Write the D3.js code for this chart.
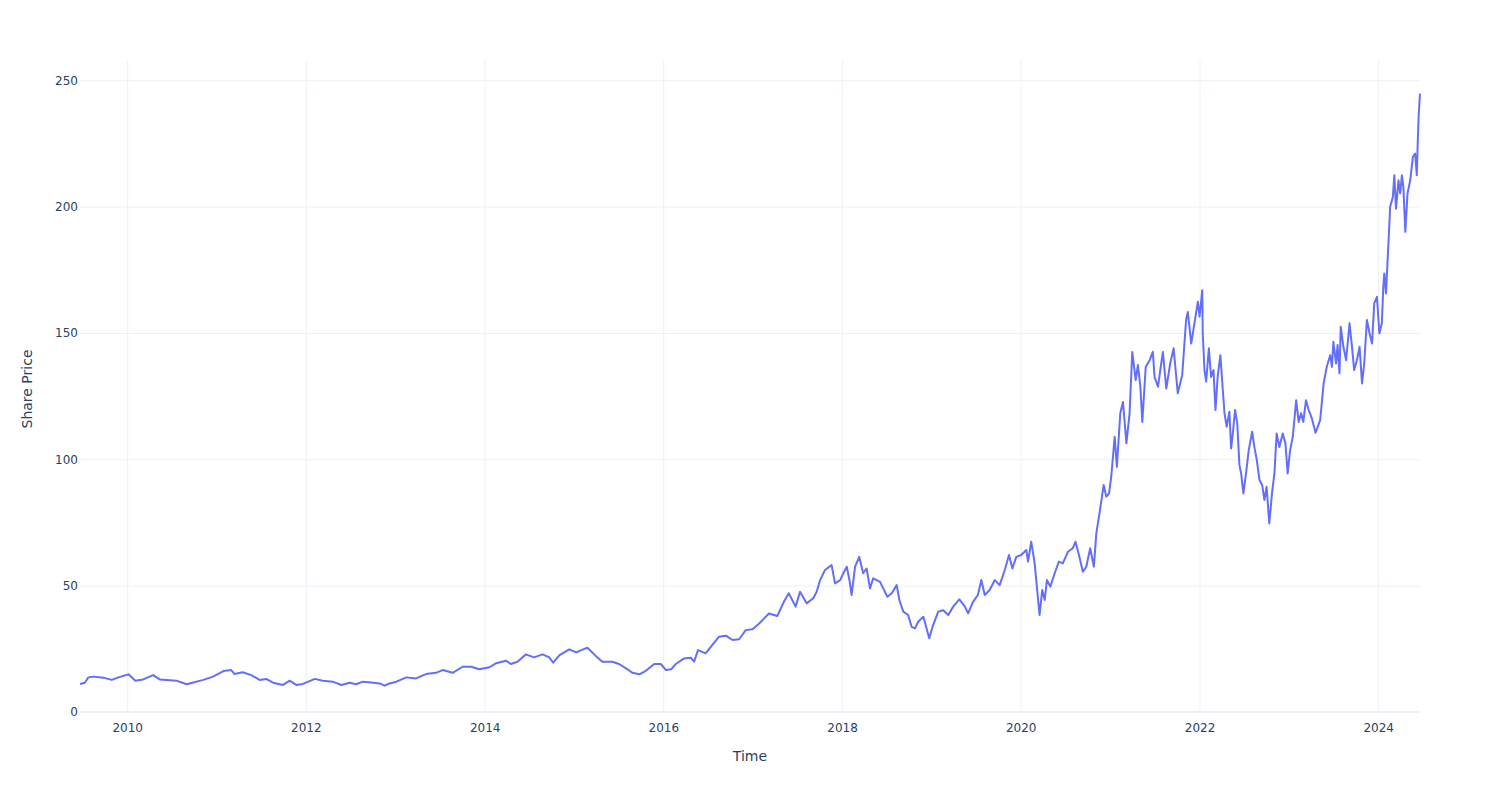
<!DOCTYPE html>
<html>
<head>
<meta charset="utf-8">
<script src="https://cdn.jsdelivr.net/npm/d3@7"></script>
<style>
  html, body { margin: 0; padding: 0; background: #fff; }
  svg { display: block; font-family: "DejaVu Sans", Verdana, sans-serif; }
</style>
</head>
<body>
<svg id="chart" width="1500" height="800"></svg>
<script>
// [date, share price]
const prices = [
["2009-06-22",11.1],["2009-07-12",11.6],["2009-07-26",13.7],["2009-08-16",14.0],["2009-09-25",13.6],["2009-10-30",12.7],["2009-11-26",13.7],
["2010-01-06",14.9],["2010-02-03",12.4],["2010-03-07",12.9],["2010-04-17",14.6],["2010-05-14",12.9],["2010-06-10",12.7],["2010-07-21",12.4],["2010-09-01",11.0],["2010-09-28",11.7],["2010-11-08",12.7],["2010-12-18",14.0],
["2011-01-29",16.2],["2011-03-02",16.6],["2011-03-16",15.0],["2011-04-18",15.7],["2011-05-23",14.6],["2011-06-26",12.7],["2011-07-23",13.1],["2011-08-20",11.6],["2011-09-30",10.7],["2011-10-27",12.4],["2011-11-23",10.7],["2011-12-20",11.1],
["2012-02-07",13.1],["2012-03-10",12.4],["2012-04-20",12.0],["2012-05-25",10.7],["2012-06-28",11.6],["2012-07-25",11.0],["2012-08-21",12.0],["2012-09-25",11.7],["2012-10-29",11.3],["2012-11-18",10.4],["2012-12-08",11.3],
["2013-01-05",12.0],["2013-02-15",13.7],["2013-03-26",13.3],["2013-05-06",15.0],["2013-06-16",15.5],["2013-07-13",16.6],["2013-08-23",15.5],["2013-10-03",17.9],["2013-11-07",17.9],["2013-12-10",16.9],
["2014-01-21",17.7],["2014-02-17",19.3],["2014-03-29",20.3],["2014-04-18",19.0],["2014-05-15",19.9],["2014-06-18",22.8],["2014-07-22",21.6],["2014-08-26",22.8],["2014-09-22",21.6],["2014-10-08",19.5],["2014-11-03",22.5],["2014-12-13",24.8],
["2015-01-10",23.6],["2015-01-31",24.5],["2015-02-25",25.4],["2015-03-31",22.2],["2015-04-27",19.9],["2015-06-07",19.9],["2015-07-04",19.0],["2015-08-08",16.9],["2015-08-28",15.5],["2015-09-25",14.9],["2015-10-22",16.3],["2015-11-25",19.0],["2015-12-22",19.0],
["2016-01-12",16.6],["2016-02-02",16.9],["2016-02-21",19.0],["2016-03-26",21.2],["2016-04-22",21.5],["2016-05-06",19.9],["2016-05-22",24.5],["2016-06-22",23.2],["2016-07-19",26.5],["2016-08-16",29.8],["2016-09-13",30.2],["2016-10-10",28.5],["2016-11-06",28.8],["2016-12-03",32.4],["2016-12-31",32.7],
["2017-01-28",35.1],["2017-03-08",39.0],["2017-04-11",38.0],["2017-05-08",43.6],["2017-05-28",47.0],["2017-06-25",41.7],["2017-07-13",47.6],["2017-08-09",43.0],["2017-09-05",45.0],["2017-09-19",47.6],["2017-10-03",52.2],["2017-10-23",56.2],["2017-11-19",58.1],["2017-12-03",50.9],["2017-12-24",52.2],
["2018-01-06",54.9],["2018-01-20",57.5],["2018-01-31",52.2],["2018-02-09",46.3],["2018-02-23",57.5],["2018-03-12",61.4],["2018-03-28",54.9],["2018-04-11",56.8],["2018-04-25",48.9],["2018-05-08",52.9],["2018-06-05",51.5],["2018-06-18",48.9],["2018-07-05",45.6],["2018-07-23",47.0],["2018-08-12",50.2],["2018-08-23",44.3],["2018-09-08",39.7],["2018-09-28",38.4],["2018-10-12",33.7],["2018-10-26",33.1],["2018-11-08",35.7],["2018-11-29",37.7],["2018-12-12",33.1],["2018-12-23",29.2],
["2019-01-08",34.4],["2019-01-29",39.7],["2019-02-18",40.3],["2019-03-11",38.4],["2019-03-31",41.7],["2019-04-25",44.6],["2019-05-18",41.7],["2019-05-31",39.0],["2019-06-20",43.6],["2019-07-10",46.3],["2019-07-24",52.2],["2019-08-07",46.3],["2019-08-27",48.3],["2019-09-17",52.2],["2019-10-07",50.2],["2019-10-28",56.2],["2019-11-14",62.1],["2019-11-28",56.8],["2019-12-14",61.4],
["2020-01-03",62.1],["2020-01-24",64.1],["2020-01-31",59.5],["2020-02-13",67.4],["2020-02-27",58.8],["2020-03-07",49.6],["2020-03-18",38.4],["2020-03-29",48.3],["2020-04-08",44.3],["2020-04-17",52.2],["2020-05-01",49.6],["2020-05-19",54.9],["2020-06-05",59.5],["2020-06-21",58.8],["2020-07-12",63.4],["2020-08-01",64.8],["2020-08-12",67.4],["2020-08-26",62.1],["2020-09-11",55.5],["2020-09-25",57.5],["2020-10-11",64.8],["2020-10-26",57.5],["2020-11-05",70.7],["2020-11-18",78.6],["2020-12-05",89.8],["2020-12-16",85.2],["2020-12-27",86.5],
["2021-01-05",93.1],["2021-01-19",108.9],["2021-01-28",97.0],["2021-02-11",118.2],["2021-02-22",122.7],["2021-03-08",106.3],["2021-03-21",118.2],["2021-04-01",142.5],["2021-04-15",131.3],["2021-04-24",137.3],["2021-05-04",128.7],["2021-05-12",114.8],["2021-05-26",136.6],["2021-06-11",139.2],["2021-06-24",142.5],["2021-07-01",132.6],["2021-07-15",128.7],["2021-08-04",142.5],["2021-08-18",128.0],["2021-09-03",137.9],["2021-09-17",143.9],["2021-10-04",126.1],["2021-10-22",133.3],["2021-11-07",155.1],["2021-11-14",158.3],["2021-11-28",145.8],["2021-12-11",153.8],["2021-12-25",162.3],
["2022-01-01",156.4],["2022-01-12",166.9],["2022-01-14",149.8],["2022-01-21",135.3],["2022-01-28",130.7],["2022-02-08",143.9],["2022-02-17",132.6],["2022-02-27",135.3],["2022-03-07",119.5],["2022-03-16",132.6],["2022-03-27",141.2],["2022-04-06",127.4],["2022-04-13",118.2],["2022-04-22",112.9],["2022-05-03",118.8],["2022-05-10",104.3],["2022-05-17",110.2],["2022-05-26",119.5],["2022-06-04",114.2],["2022-06-13",97.7],["2022-06-20",94.4],["2022-06-29",86.5],["2022-07-10",94.4],["2022-07-21",103.6],["2022-08-04",110.9],["2022-08-13",104.9],["2022-08-23",99.7],["2022-09-03",91.8],["2022-09-14",89.8],["2022-09-23",83.9],["2022-10-02",89.1],["2022-10-13",74.6],["2022-10-24",86.5],["2022-11-03",94.4],["2022-11-12",110.2],["2022-11-23",104.9],["2022-12-07",110.2],["2022-12-18",106.3],["2022-12-27",94.4],
["2023-01-06",103.6],["2023-01-17",108.9],["2023-01-31",123.4],["2023-02-10",114.8],["2023-02-20",118.2],["2023-03-01",114.8],["2023-03-12",123.4],["2023-03-23",119.5],["2023-04-05",116.2],["2023-04-20",110.5],["2023-05-09",115.5],["2023-05-23",130.0],["2023-06-05",136.6],["2023-06-19",141.2],["2023-06-26",136.6],["2023-07-02",146.5],["2023-07-13",137.9],["2023-07-19",145.2],["2023-07-27",134.0],["2023-08-01",152.4],["2023-08-12",144.5],["2023-08-23",139.2],["2023-09-06",153.8],["2023-09-16",144.5],["2023-09-25",135.3],["2023-10-06",139.2],["2023-10-17",144.5],["2023-10-27",130.0],["2023-11-05",137.9],["2023-11-16",155.1],["2023-11-27",149.8],["2023-12-07",145.8],["2023-12-16",161.7],["2023-12-27",164.3],
["2024-01-06",149.8],["2024-01-16",153.8],["2024-01-22",168.2],["2024-01-26",173.5],["2024-02-02",165.6],["2024-02-12",185.4],["2024-02-19",199.9],["2024-03-01",203.8],["2024-03-07",212.4],["2024-03-14",199.2],["2024-03-24",210.4],["2024-03-31",205.2],["2024-04-07",212.4],["2024-04-13",207.8],["2024-04-21",190.0],["2024-04-30",205.2],["2024-05-11",210.4],["2024-05-22",219.7],["2024-05-31",221.0],["2024-06-07",212.4],["2024-06-11",226.3],["2024-06-15",236.8],["2024-06-20",244.7]
];
const xTickYears = [2010, 2012, 2014, 2016, 2018, 2020, 2022, 2024];
const yTicks = [0, 50, 100, 150, 200, 250];
const yMax = 258;
const xTitle = "Time";
const yTitle = "Share Price";

const W = 1500, H = 800;
const M = { left: 80, right: 80, top: 60, bottom: 88 };
const parse = d3.timeParse("%Y-%m-%d");
const data = prices.map(([d, v]) => ({ date: parse(d), value: v }));

const svg = d3.select("#chart");
const x = d3.scaleTime()
  .domain(d3.extent(data, d => d.date))
  .range([M.left, W - M.right]);
const y = d3.scaleLinear()
  .domain([0, yMax])
  .range([H - M.bottom, M.top]);

const gridColor = "#EBF0F8";
const textColor = "#2a3f5f";
const tickFont = "DejaVu Sans, Verdana, sans-serif";

// vertical grid
const xTickDates = xTickYears.map(yr => new Date(yr, 0, 1));
svg.append("g")
  .attr("transform", `translate(0,${H - M.bottom})`)
  .call(d3.axisBottom(x).tickValues(xTickDates).tickSize(-(H - M.bottom - M.top)).tickFormat(""))
  .call(g => g.select(".domain").remove())
  .call(g => g.selectAll("line").attr("stroke", gridColor).attr("stroke-width", 1));

// horizontal grid
svg.append("g")
  .attr("transform", `translate(${M.left},0)`)
  .call(d3.axisLeft(y).tickValues(yTicks.filter(v => v !== 0)).tickSize(-(W - M.left - M.right)).tickFormat(""))
  .call(g => g.select(".domain").remove())
  .call(g => g.selectAll("line").attr("stroke", gridColor).attr("stroke-width", 1));

// zero line
svg.append("line")
  .attr("x1", M.left).attr("x2", W - M.right)
  .attr("y1", y(0)).attr("y2", y(0))
  .attr("stroke", gridColor).attr("stroke-width", 2);

// x tick labels
svg.append("g")
  .attr("transform", `translate(0,${H - M.bottom})`)
  .call(d3.axisBottom(x).tickValues(xTickDates).tickSize(0).tickPadding(11).tickFormat(d3.timeFormat("%Y")))
  .call(g => g.select(".domain").remove())
  .call(g => g.selectAll("text").attr("fill", textColor).style("font-size", "12px").style("font-family", tickFont));

// y tick labels
svg.append("g")
  .attr("transform", `translate(${M.left},0)`)
  .call(d3.axisLeft(y).tickValues(yTicks).tickSize(0).tickPadding(2).tickFormat(d3.format("d")))
  .call(g => g.select(".domain").remove())
  .call(g => g.selectAll("text").attr("fill", textColor).style("font-size", "12px").style("font-family", tickFont));

// line
const line = d3.line()
  .x(d => x(d.date))
  .y(d => y(d.value));
svg.append("path")
  .datum(data)
  .attr("fill", "none")
  .attr("stroke", "#636efa")
  .attr("stroke-width", 2)
  .attr("stroke-linejoin", "round")
  .attr("d", line);

// axis titles
svg.append("text")
  .attr("x", (M.left + W - M.right) / 2)
  .attr("y", 761)
  .attr("text-anchor", "middle")
  .attr("fill", textColor)
  .style("font-size", "14px")
  .text(xTitle);

svg.append("text")
  .attr("transform", `translate(32,389) rotate(-90)`)
  .attr("text-anchor", "middle")
  .attr("fill", textColor)
  .style("font-size", "14px")
  .text(yTitle);
</script>
</body>
</html>
